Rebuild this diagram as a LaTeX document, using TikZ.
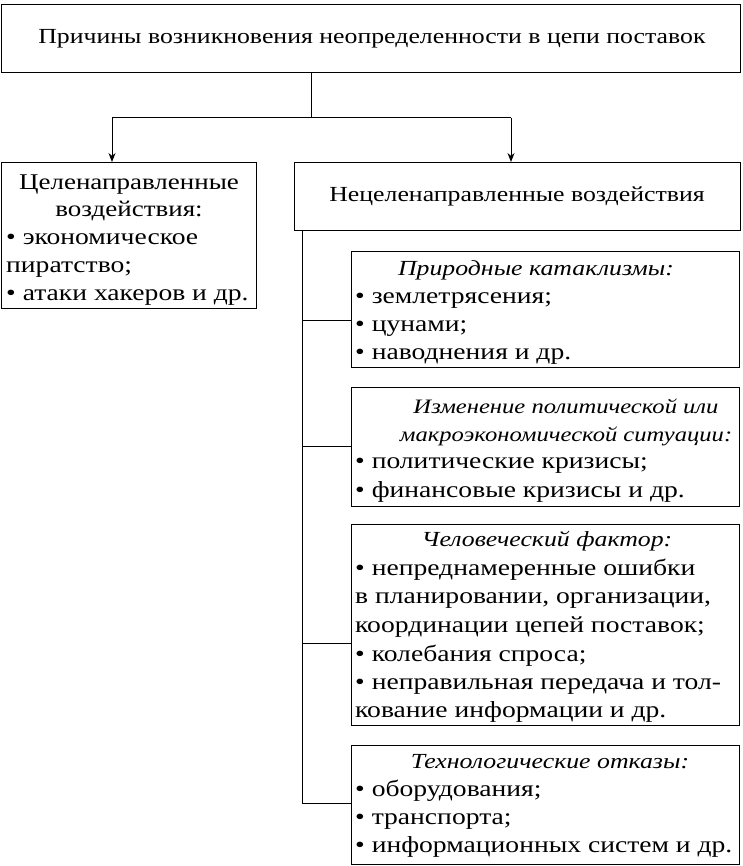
\documentclass[tikz,border=0pt]{standalone}
\usepackage{fontspec}
\setmainfont{Liberation Serif}[FakeStretch=1.2]
\usetikzlibrary{arrows.meta}
\tikzset{
  frame/.style={draw, line width=1pt, inner sep=0pt, anchor=north west},
  lc/.style={inner sep=0pt, anchor=mid, font=\fontsize{21.5}{26}\selectfont},
  lb/.style={inner sep=0pt, anchor=mid, font=\fontsize{22.5}{26}\selectfont},
  ll/.style={inner sep=0pt, anchor=mid west, font=\fontsize{23}{26}\selectfont},
  lci/.style={lc, font=\fontsize{21.5}{26}\selectfont\itshape},
  lcs/.style={lc, font=\fontsize{20.5}{26}\selectfont\itshape},
  conn/.style={line width=1pt},
  arr/.style={line width=1pt, -{Stealth[length=9pt,width=7pt]}}
}
\begin{document}
\begin{tikzpicture}[x=1pt,y=-1pt]
\fill[white] (0,0) rectangle (742,866);
\useasboundingbox (0,0) rectangle (742,866);
% boxes
\node[frame, minimum width=739pt, minimum height=68pt] (top) at (1,4) {};
\node[frame, minimum width=255pt, minimum height=146pt] (left) at (1,162) {};
\node[frame, minimum width=446pt, minimum height=68pt] (head) at (294,162) {};
\node[frame, minimum width=388pt, minimum height=116pt] (b1) at (351,251) {};
\node[frame, minimum width=388pt, minimum height=119pt] (b2) at (351,387) {};
\node[frame, minimum width=388pt, minimum height=201pt] (b3) at (351,524) {};
\node[frame, minimum width=388pt, minimum height=119pt] (b4) at (351,745) {};
% texts
\node[lc] (ttop) at (372,41) {Причины возникновения неопределенности в цепи поставок};
\node[lb] (l1) at (129,187) {Целенаправленные};
\node[lb] (l2) at (129,214) {воздействия:};
\node[ll] (l3) at (6,242) {• экономическое};
\node[ll] (l4) at (6,270) {пиратство;};
\node[ll] (l5) at (6,298) {• атаки хакеров и др.};
\node[lc] (thead) at (517,199) {Нецеленаправленные воздействия};
\node[lci] (a0) at (536,273) {Природные катаклизмы:};
\node[ll] (a1) at (355,301) {• землетрясения;};
\node[ll] (a2) at (355,329) {• цунами;};
\node[ll] (a3) at (355,357) {• наводнения и др.};
\node[lcs] (c0) at (566,411) {Изменение политической или};
\node[lcs] (c1) at (566,439) {макроэкономической ситуации:};
\node[ll] (c2) at (355,466) {• политические кризисы;};
\node[ll] (c3) at (355,495) {• финансовые кризисы и др.};
\node[lci] (d0) at (547,544) {Человеческий фактор:};
\node[ll] (d1) at (355,573) {• непреднамеренные ошибки};
\node[ll] (d2) at (355,601) {в планировании, организации,};
\node[ll] (d3) at (355,630) {координации цепей поставок;};
\node[ll] (d4) at (355,659) {• колебания спроса;};
\node[ll] (d5) at (355,687) {• неправильная передача и тол-};
\node[ll] (d6) at (355,715) {кование информации и др.};
\node[lci] (e0) at (550,766) {Технологические отказы:};
\node[ll] (e1) at (355,794) {• оборудования;};
\node[ll] (e2) at (355,822) {• транспорта;};
\node[ll] (e3) at (355,850) {• информационных систем и др.};
% connectors
\coordinate (j) at (311,118);
\coordinate (jl) at (112,118);
\coordinate (jr) at (511,118);
\draw[conn] (j |- top.south) -- (j);
\draw[conn] (jl) -- (jr);
\draw[arr] (jl) -- (jl |- left.north);
\draw[arr] (jr) -- (jr |- head.north);
\coordinate (br1) at (302,320);
\coordinate (br2) at (302,446);
\coordinate (br3) at (302,643);
\coordinate (br4) at (302,803);
\draw[conn] (br1 |- head.south) -- (br4);
\draw[conn] (br1) -- (br1 -| b1.west);
\draw[conn] (br2) -- (br2 -| b2.west);
\draw[conn] (br3) -- (br3 -| b3.west);
\draw[conn] (br4) -- (br4 -| b4.west);
\end{tikzpicture}
\end{document}
